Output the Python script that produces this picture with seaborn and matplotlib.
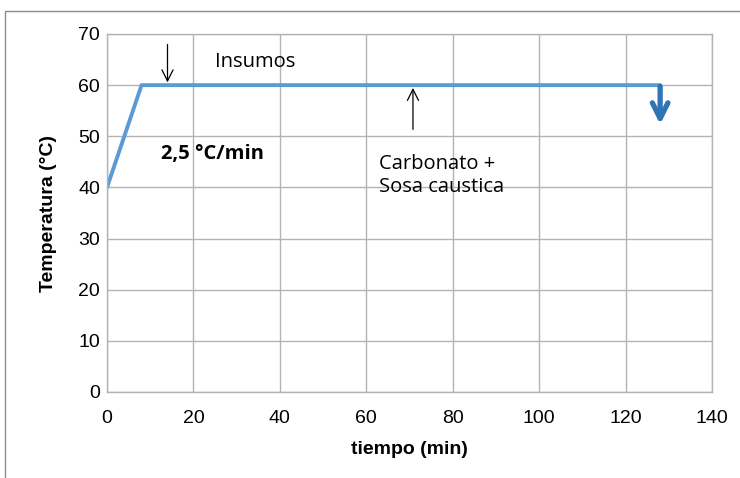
import matplotlib
matplotlib.use("Agg")
import matplotlib.pyplot as plt
import seaborn as sns
import pandas as pd
from matplotlib.patches import Rectangle

sns.set_theme(style="whitegrid")
plt.rcParams['font.family'] = ['Liberation Sans', 'DejaVu Sans']
plt.rcParams['text.color'] = 'black'
plt.rcParams['axes.labelcolor'] = 'black'

tiempo = [0, 4, 8, 128]
temperatura = [40, 50, 60, 60]
xticks = [0, 20, 40, 60, 80, 100, 120, 140]
yticks = [0, 10, 20, 30, 40, 50, 60, 70]

df = pd.DataFrame({"tiempo": tiempo, "temp": temperatura})

fig = plt.figure(figsize=(7.4, 4.78), dpi=100)
ax = fig.add_axes([107/740, 1-392/478, (712-107)/740, (392-34)/478])

sns.lineplot(data=df, x="tiempo", y="temp", ax=ax, color="#5B9BD5", linewidth=2.8, sort=False)

ax.set_xlim(0, 140)
ax.set_ylim(0, 70)
ax.set_xticks(xticks)
ax.set_yticks(yticks)
ax.tick_params(axis='both', labelsize=14, length=0, pad=5, colors='black')
ax.tick_params(axis='x', pad=13)
ax.set_xlabel("tiempo (min)", fontsize=14, fontweight='bold', labelpad=10, color='black')
ax.set_ylabel("Temperatura (°C)", fontsize=14, fontweight='bold', labelpad=15, color='black')
ax.grid(True, color="#B3B3B3", linewidth=1)
ax.set_facecolor("white")
for s in ax.spines.values():
    s.set_color("#B3B3B3")
    s.set_linewidth(1)

afont = ['Open Sans', 'DejaVu Sans']
# Insumos arrow
ax.annotate("", xy=(14, 60), xytext=(14, 68.5),
            arrowprops=dict(arrowstyle="->", color="black", lw=0.9, mutation_scale=20))
ax.text(25, 64.6, "Insumos", fontsize=14.5, family=afont, ha='left', va='center', color='black')
ax.text(12.5, 46.5, "2,5 °C/min", fontsize=14.5, family=afont, fontweight='bold', ha='left', va='center', color='black')
# Carbonato arrow
ax.annotate("", xy=(70.8, 60), xytext=(70.8, 50.8),
            arrowprops=dict(arrowstyle="->", color="black", lw=0.9, mutation_scale=20))
ax.text(63, 42.3, "Carbonato +\nSosa caustica", fontsize=14.5, family=afont, ha='left', va='center',
        linespacing=1.2, color='black')
# big down arrow
ax.annotate("", xy=(128, 51.8), xytext=(128, 60.3),
            arrowprops=dict(arrowstyle="->", color="#2E75B6", lw=3.8, mutation_scale=28))

# outer chart border (partially visible)
fig.patches.append(Rectangle((5/740, -0.1), 1.2, 1.1 - 11/478, transform=fig.transFigure,
                             fill=False, edgecolor="#8C8C8C", linewidth=1))

fig.savefig("out.png", dpi=100, facecolor="white")
